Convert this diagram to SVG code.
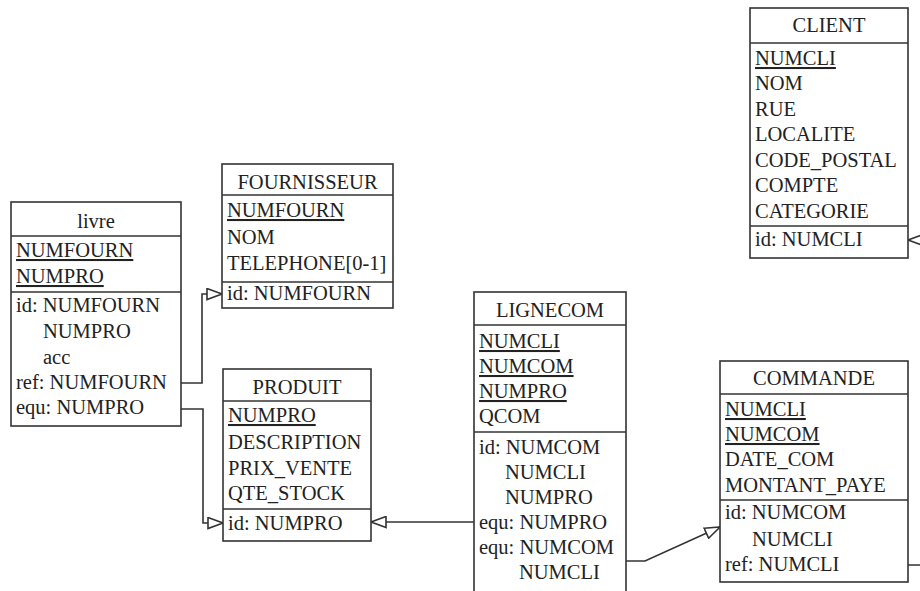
<svg xmlns="http://www.w3.org/2000/svg" width="920" height="591" viewBox="0 0 920 591">
<style>
.box{fill:#fff;stroke:#333;stroke-width:1.6}
.sep{stroke:#333;stroke-width:1.6}
text{font-family:"Liberation Serif","Times New Roman",serif;font-size:20.5px;fill:#222}
.t{text-anchor:middle}
.u{text-decoration:underline}
.conn{fill:none;stroke:#333;stroke-width:1.6}
</style>
<defs>
<marker id="tri" viewBox="0 0 17 13" markerWidth="17" markerHeight="13" refX="16" refY="6.5" orient="auto" markerUnits="userSpaceOnUse">
<path d="M1,1 L16,6.5 L1,12 Z" fill="#fff" stroke="#333" stroke-width="1.6"/>
</marker>
</defs>
<rect width="920" height="591" fill="#fff"/>
<g id="connectors">
<path class="conn" d="M181,383 H202 V294 H222" marker-end="url(#tri)"/>
<path class="conn" d="M181,409 H203 V523 H223" marker-end="url(#tri)"/>
<path class="conn" d="M474,522 H371" marker-end="url(#tri)"/>
<path class="conn" d="M626,561 H645 L720,527" marker-end="url(#tri)"/>
<path class="conn" d="M908,565 H930 V240 H908" marker-end="url(#tri)"/>
</g>
<g id="livre">
<rect class="box" x="11" y="202" width="170" height="224"/>
<line class="sep" x1="11" y1="236" x2="181" y2="236"/>
<line class="sep" x1="11" y1="292" x2="181" y2="292"/>
<text class="t" x="96" y="228">livre</text>
<text class="u" x="16" y="257">NUMFOURN</text>
<text class="u" x="16" y="283">NUMPRO</text>
<text x="16" y="312">id: NUMFOURN</text>
<text x="43" y="338">NUMPRO</text>
<text x="43" y="364">acc</text>
<text x="16" y="389">ref: NUMFOURN</text>
<text x="16" y="414">equ: NUMPRO</text>
</g>
<g id="fournisseur">
<rect class="box" x="222" y="164" width="171" height="144"/>
<line class="sep" x1="222" y1="195" x2="393" y2="195"/>
<line class="sep" x1="222" y1="282" x2="393" y2="282"/>
<text class="t" x="307.5" y="189">FOURNISSEUR</text>
<text class="u" x="227" y="217">NUMFOURN</text>
<text x="227" y="244">NOM</text>
<text x="227" y="270">TELEPHONE[0-1]</text>
<text x="227" y="300">id: NUMFOURN</text>
</g>
<g id="produit">
<rect class="box" x="223" y="369" width="148" height="172"/>
<line class="sep" x1="223" y1="401" x2="371" y2="401"/>
<line class="sep" x1="223" y1="509" x2="371" y2="509"/>
<text class="t" x="297" y="394">PRODUIT</text>
<text class="u" x="228" y="422">NUMPRO</text>
<text x="228" y="449">DESCRIPTION</text>
<text x="228" y="475">PRIX_VENTE</text>
<text x="228" y="500">QTE_STOCK</text>
<text x="228" y="530">id: NUMPRO</text>
</g>
<g id="lignecom">
<rect class="box" x="474" y="292" width="152" height="310"/>
<line class="sep" x1="474" y1="325" x2="626" y2="325"/>
<line class="sep" x1="474" y1="432" x2="626" y2="432"/>
<text class="t" x="550" y="317">LIGNECOM</text>
<text class="u" x="479" y="348">NUMCLI</text>
<text class="u" x="479" y="373">NUMCOM</text>
<text class="u" x="479" y="398">NUMPRO</text>
<text x="479" y="423">QCOM</text>
<text x="479" y="454">id: NUMCOM</text>
<text x="505" y="479">NUMCLI</text>
<text x="505" y="504">NUMPRO</text>
<text x="479" y="529">equ: NUMPRO</text>
<text x="479" y="554">equ: NUMCOM</text>
<text x="519" y="579">NUMCLI</text>
</g>
<g id="commande">
<rect class="box" x="720" y="361" width="188" height="221"/>
<line class="sep" x1="720" y1="394" x2="908" y2="394"/>
<line class="sep" x1="720" y1="500" x2="908" y2="500"/>
<text class="t" x="814" y="385">COMMANDE</text>
<text class="u" x="725" y="416">NUMCLI</text>
<text class="u" x="725" y="441">NUMCOM</text>
<text x="725" y="466">DATE_COM</text>
<text x="725" y="492">MONTANT_PAYE</text>
<text x="725" y="519">id: NUMCOM</text>
<text x="752" y="546">NUMCLI</text>
<text x="725" y="571">ref: NUMCLI</text>
</g>
<g id="client">
<rect class="box" x="750" y="8" width="158" height="250"/>
<line class="sep" x1="750" y1="43" x2="908" y2="43"/>
<line class="sep" x1="750" y1="226" x2="908" y2="226"/>
<text class="t" x="829" y="32">CLIENT</text>
<text class="u" x="755" y="65">NUMCLI</text>
<text x="755" y="90">NOM</text>
<text x="755" y="116">RUE</text>
<text x="755" y="141">LOCALITE</text>
<text x="755" y="167">CODE_POSTAL</text>
<text x="755" y="192">COMPTE</text>
<text x="755" y="218">CATEGORIE</text>
<text x="755" y="246">id: NUMCLI</text>
</g>
</svg>
